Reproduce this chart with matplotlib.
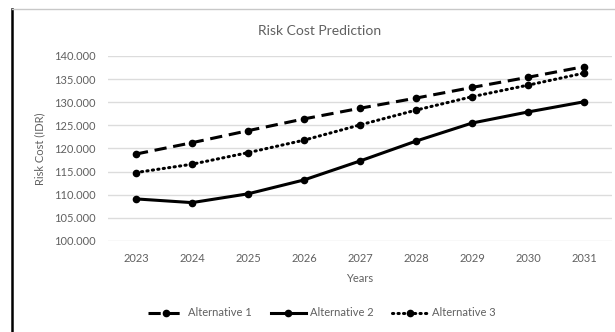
import matplotlib
matplotlib.use("Agg")
import matplotlib.pyplot as plt
from matplotlib.lines import Line2D
from matplotlib.ticker import FuncFormatter

years = ["2023", "2024", "2025", "2026", "2027", "2028", "2029", "2030", "2031"]
alt1 = [118800, 121250, 123850, 126400, 128700, 130900, 133200, 135400, 137700]
alt2 = [109100, 108300, 110200, 113200, 117300, 121600, 125500, 127900, 130100]
alt3 = [114800, 116600, 119100, 121800, 125100, 128300, 131200, 133700, 136300]
series_names = ["Alternative 1", "Alternative 2", "Alternative 3"]

plt.rcParams["font.family"] = ["Lato", "DejaVu Sans"]

W, H = 615, 332
fig = plt.figure(figsize=(W / 100, H / 100), dpi=100)
fig.patch.set_facecolor("white")

# plot area in pixel terms
left, right, top, bottom = 108, 612, 56, 241
ax = fig.add_axes([left / W, 1 - bottom / H, (right - left) / W, (bottom - top) / H])

x = list(range(len(years)))
grey_txt = "#606060"

ax.plot(x, alt1, color="black", lw=2.2, marker="o", ms=4.5, dashes=(4, 2.2),
        label=series_names[0])
ax.plot(x, alt2, color="black", lw=2.2, marker="o", ms=4.5, linestyle="-",
        label=series_names[1])
ax.plot(x, alt3, color="black", lw=2.2, marker="o", ms=4.5,
        linestyle=(0, (0.4, 1.4)), dash_capstyle="round", label=series_names[2])

ax.set_xlim(-0.5, len(years) - 0.5)
ax.set_ylim(100000, 140000)
ax.set_yticks(range(100000, 140001, 5000))
ax.yaxis.set_major_formatter(FuncFormatter(lambda v, p: f"{int(v):,}".replace(",", ".")))
ax.set_xticks(x)
ax.set_xticklabels(years)
ax.grid(axis="y", color="#dcdcdc", lw=1)
ax.set_axisbelow(True)
for s in ax.spines.values():
    s.set_visible(False)
ax.tick_params(axis="both", length=0, labelsize=8, colors=grey_txt)
ax.tick_params(axis="y", pad=9)
ax.tick_params(axis="x", pad=9)

fig.text(320 / W, 1 - 31 / H, "Risk Cost Prediction", ha="center", va="center",
         fontsize=10, color=grey_txt)
fig.text(40 / W, 1 - 149 / H, "Risk Cost (IDR)", ha="center", va="center",
         rotation=90, fontsize=8, color=grey_txt)
fig.text(360 / W, 1 - 278 / H, "Years", ha="center", va="center",
         fontsize=8, color=grey_txt)

leg = fig.legend(loc="center", bbox_to_anchor=(322 / W, 1 - 313 / H), ncol=3,
                 frameon=False, fontsize=8, handlelength=3.2, handletextpad=0.35,
                 columnspacing=1.7, numpoints=1, labelcolor=grey_txt)

# chart frame: dark left edge, light top edge
fig.add_artist(Line2D([12 / W, 12 / W], [0, 1 - 9 / H], color="black", lw=1.8,
                      transform=fig.transFigure))
fig.add_artist(Line2D([12 / W, 1], [1 - 9 / H, 1 - 9 / H], color="#c8c8c8", lw=1,
                      transform=fig.transFigure))

fig.savefig("out.png", dpi=100)
